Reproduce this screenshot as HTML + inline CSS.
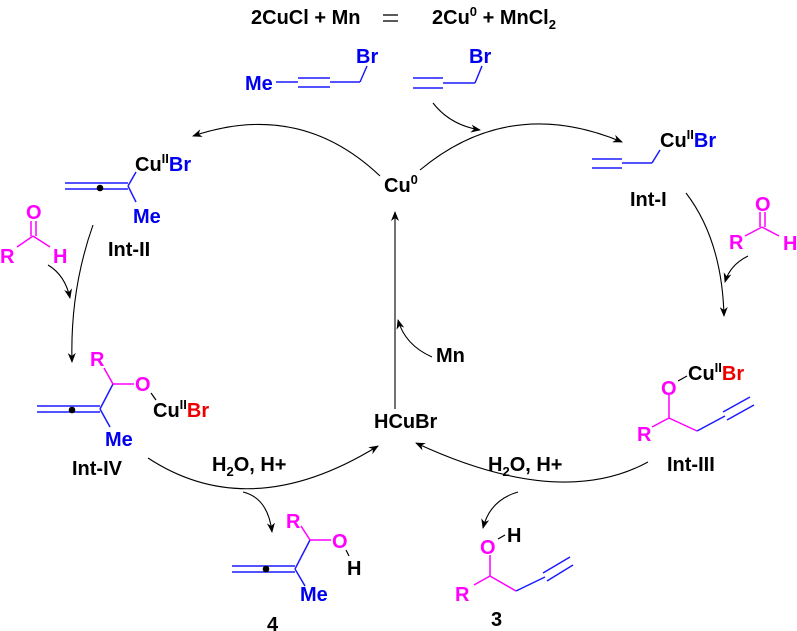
<!DOCTYPE html>
<html><head><meta charset="utf-8"><style>
html,body{margin:0;padding:0;background:#fff;}
svg{display:block;}
text{font-family:"Liberation Sans",Arial,sans-serif;font-weight:bold;}
</style></head><body>
<svg width="797" height="631" viewBox="0 0 797 631" xmlns="http://www.w3.org/2000/svg">
<defs>
<marker id="ah" markerWidth="10" markerHeight="8" refX="9" refY="4" orient="auto" markerUnits="userSpaceOnUse">
<path d="M0,0 L10,4 L0,8 L3,4 Z" fill="#000"/></marker>
</defs>
<g font-size="20" font-weight="bold">
<text x="251" y="24">2CuCl + Mn</text>
<line x1="383" y1="15" x2="398" y2="15" stroke="#000" stroke-width="1.3"/>
<line x1="383" y1="21" x2="398" y2="21" stroke="#000" stroke-width="1.3"/>
<text x="432" y="24">2Cu<tspan font-size="13" dy="-8">0</tspan><tspan dy="8"> + MnCl</tspan><tspan font-size="13" dy="5">2</tspan></text>

<g stroke="#1a1aff" stroke-width="1.5" fill="none">
<line x1="276" y1="82" x2="298" y2="82"/>
<line x1="298" y1="78" x2="330" y2="78"/><line x1="298" y1="87" x2="330" y2="87"/>
<line x1="330" y1="82" x2="360" y2="82"/><line x1="360" y1="82" x2="367" y2="66"/>
<line x1="413" y1="78" x2="443" y2="78"/><line x1="413" y1="88" x2="443" y2="88"/>
<line x1="443" y1="83" x2="475" y2="83"/><line x1="475" y1="83" x2="482" y2="66"/>
</g>
<g fill="#0000ee">
<text x="245" y="90">Me</text><text x="356" y="63">Br</text><text x="469" y="63">Br</text>
</g>

<text x="384" y="192">Cu<tspan font-size="13" dy="-8">0</tspan></text>
<g stroke="#000" stroke-width="1.1" fill="none">
<path d="M380,176 Q300,100 193,136" marker-end="url(#ah)"/>
<path d="M420,170 Q510,95 622,142" marker-end="url(#ah)"/>
<path d="M433,103 Q450,125 480,130" marker-end="url(#ah)"/>
<path d="M395,409 L395,212" marker-end="url(#ah)"/>
<path d="M432,357 Q405,345 398,320" marker-end="url(#ah)"/>
<path d="M686,193 Q722,240 724,316" marker-end="url(#ah)"/>
<path d="M748,256 Q730,265 725,282" marker-end="url(#ah)"/>
<path d="M93,225 Q70,290 72,362" marker-end="url(#ah)"/>
<path d="M48,265 Q65,275 70,298" marker-end="url(#ah)"/>
<path d="M648,462 Q560,510 416,443" marker-end="url(#ah)"/>
<path d="M518,492 Q490,500 483,528" marker-end="url(#ah)"/>
<path d="M148,458 Q250,525 378,446" marker-end="url(#ah)"/>
<path d="M243,492 Q268,498 272,532" marker-end="url(#ah)"/>
</g>

<g stroke="#1a1aff" stroke-width="1.5" fill="none">
<line x1="592" y1="159" x2="622" y2="159"/><line x1="592" y1="168" x2="622" y2="168"/>
<line x1="622" y1="163" x2="652" y2="163"/><line x1="652" y1="163" x2="660" y2="150"/>
</g>
<text x="660" y="147">Cu<tspan font-size="13" dy="-8">II</tspan><tspan fill="#0000ee" dy="8">Br</tspan></text>
<text x="630" y="206">Int-I</text>

<g stroke="#ff00ff" stroke-width="1.5"><line x1="745" y1="236" x2="762" y2="227"/><line x1="762" y1="227" x2="779" y2="236"/>
<line x1="760" y1="227" x2="760" y2="212"/><line x1="765" y1="227" x2="765" y2="212"/></g>
<g fill="#ff00ff"><text x="729" y="249">R</text><text x="755" y="211">O</text><text x="783" y="250">H</text></g>

<g stroke="#ff00ff" stroke-width="1.5" fill="none">
<line x1="669" y1="395" x2="669" y2="418"/><line x1="669" y1="418" x2="652" y2="427"/><line x1="669" y1="418" x2="697" y2="431"/>
</g>
<g stroke="#1a1aff" stroke-width="1.5" fill="none">
<line x1="697" y1="431" x2="725" y2="416"/>
<line x1="723" y1="412" x2="750" y2="397"/><line x1="727" y1="420" x2="754" y2="405"/>
</g>
<line x1="678" y1="381" x2="687" y2="376" stroke="#000" stroke-width="1.2"/>
<g fill="#ff00ff"><text x="661" y="395">O</text><text x="637" y="441">R</text></g>
<text x="688" y="380">Cu<tspan font-size="13" dy="-8">II</tspan><tspan fill="#ee0000" dy="8">Br</tspan></text>
<text x="667" y="471">Int-III</text>

<text x="374" y="428">HCuBr</text>
<text x="436" y="362">Mn</text>
<text x="488" y="471">H<tspan font-size="13" dy="5">2</tspan><tspan dy="-5">O, H+</tspan></text>
<text x="212" y="471">H<tspan font-size="13" dy="5">2</tspan><tspan dy="-5">O, H+</tspan></text>

<g stroke="#ff00ff" stroke-width="1.5" fill="none">
<line x1="490" y1="555" x2="490" y2="576"/><line x1="490" y1="576" x2="474" y2="585"/><line x1="490" y1="576" x2="516" y2="591"/>
</g>
<g stroke="#1a1aff" stroke-width="1.5" fill="none">
<line x1="516" y1="591" x2="545" y2="577"/>
<line x1="543" y1="573" x2="570" y2="557"/><line x1="547" y1="581" x2="573" y2="565"/>
</g>
<line x1="498" y1="539" x2="505" y2="535" stroke="#000" stroke-width="1.2"/>
<g fill="#ff00ff"><text x="480" y="554">O</text><text x="455" y="601">R</text></g>
<text x="507" y="542">H</text>
<text x="491" y="626">3</text>

<g stroke="#1a1aff" stroke-width="1.5" fill="none">
<line x1="65" y1="183" x2="128" y2="183"/><line x1="65" y1="189" x2="128" y2="189"/>
<line x1="128" y1="186" x2="136" y2="172"/><line x1="128" y1="186" x2="136" y2="202"/>
</g>
<circle cx="100" cy="188" r="3.3" fill="#000"/>
<text x="135" y="171">Cu<tspan font-size="13" dy="-8">II</tspan><tspan fill="#0000ee" dy="8">Br</tspan></text>
<text x="133" y="223" fill="#0000ee">Me</text>
<text x="108" y="256">Int-II</text>

<g stroke="#ff00ff" stroke-width="1.5"><line x1="17" y1="247" x2="33" y2="236"/><line x1="33" y1="236" x2="50" y2="247"/>
<line x1="31" y1="236" x2="31" y2="221"/><line x1="36" y1="236" x2="36" y2="221"/></g>
<g fill="#ff00ff"><text x="26" y="219">O</text><text x="0" y="263">R</text><text x="53" y="263">H</text></g>

<g stroke="#1a1aff" stroke-width="1.5" fill="none">
<line x1="37" y1="406" x2="100" y2="406"/><line x1="37" y1="412" x2="100" y2="412"/>
<line x1="100" y1="409" x2="113" y2="384"/><line x1="100" y1="409" x2="110" y2="427"/>
</g>
<g stroke="#ff00ff" stroke-width="1.5" fill="none"><line x1="113" y1="384" x2="104" y2="368"/><line x1="113" y1="384" x2="134" y2="384"/></g>
<line x1="151" y1="393" x2="156" y2="400" stroke="#000" stroke-width="1.2"/>
<circle cx="72" cy="410" r="3.3" fill="#000"/>
<g fill="#ff00ff"><text x="90" y="366">R</text><text x="135" y="391">O</text></g>
<text x="153" y="417">Cu<tspan font-size="13" dy="-8">II</tspan><tspan fill="#ee0000" dy="8">Br</tspan></text>
<text x="105" y="446" fill="#0000ee">Me</text>
<text x="72" y="475">Int-IV</text>

<g stroke="#1a1aff" stroke-width="1.5" fill="none">
<line x1="232" y1="566" x2="295" y2="566"/><line x1="232" y1="572" x2="295" y2="572"/>
<line x1="295" y1="569" x2="310" y2="540"/><line x1="295" y1="569" x2="305" y2="586"/>
</g>
<g stroke="#ff00ff" stroke-width="1.5" fill="none"><line x1="310" y1="540" x2="301" y2="526"/><line x1="310" y1="540" x2="331" y2="540"/></g>
<line x1="346" y1="550" x2="349" y2="556" stroke="#000" stroke-width="1.2"/>
<circle cx="266" cy="569" r="3.3" fill="#000"/>
<g fill="#ff00ff"><text x="286" y="528">R</text><text x="332" y="548">O</text></g>
<text x="347" y="575">H</text>
<text x="300" y="601" fill="#0000ee">Me</text>
<text x="267" y="631">4</text>
</g>
</svg>
</body></html>
